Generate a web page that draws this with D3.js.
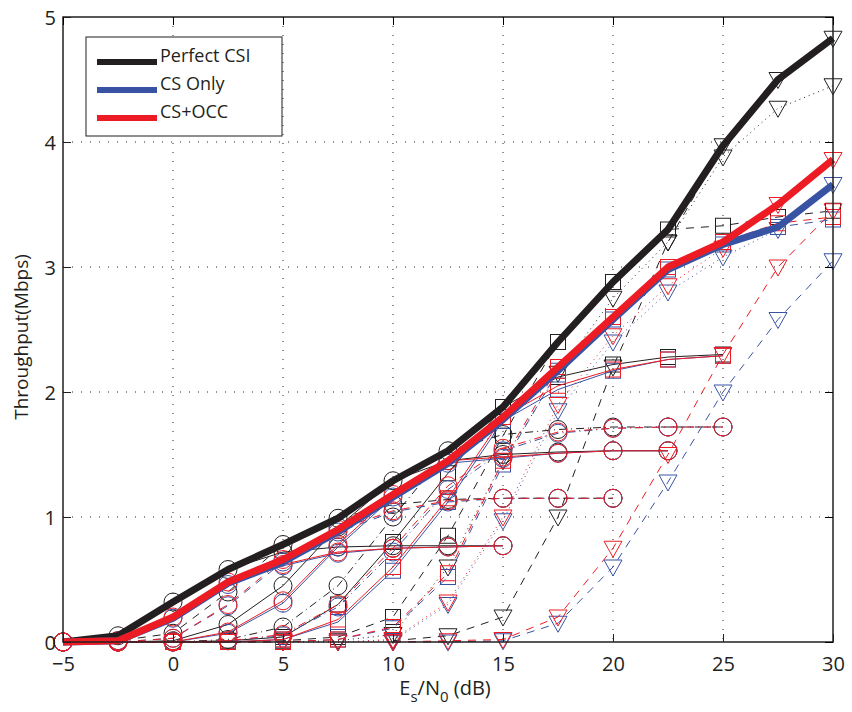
<!DOCTYPE html>
<html>
<head>
<meta charset="utf-8">
<script src="https://cdn.jsdelivr.net/npm/d3@7"></script>
<style>
  body { margin: 0; background: #fff; }
  text { font-family: "Open Sans", "Noto Sans", sans-serif; fill: #231f20; }
</style>
</head>
<body>
<div id="chart"></div>
<script>
// SNR grid (dB) and ticks
const snr = [-5, -2.5, 0, 2.5, 5, 7.5, 10, 12.5, 15, 17.5, 20, 22.5, 25, 27.5, 30];
const xTicks = [-5, 0, 5, 10, 15, 20, 25, 30];
const yTicks = [0, 1, 2, 3, 4, 5];
const schemeNames = ["Perfect CSI", "CS Only", "CS+OCC"];
const schemeColors = ["#231f20", "#3953a4", "#ed1c24"];

// thick envelope curves (best MCS per SNR)
const perfectCSI = [0, 0.05, 0.32, 0.58, 0.78, 0.99, 1.29, 1.53, 1.88, 2.4, 2.88, 3.3, 3.97, 4.5, 4.83];
const csOnly     = [0, 0.01, 0.19, 0.47, 0.64, 0.88, 1.16, 1.43, 1.78, 2.17, 2.58, 2.98, 3.18, 3.32, 3.66];
const csOcc      = [0, 0.01, 0.2, 0.48, 0.66, 0.9, 1.18, 1.45, 1.8, 2.2, 2.6, 3.0, 3.2, 3.5, 3.86];

// thin per-MCS curves: [perfect, cs only, cs+occ], each starting at its own SNR
const mcs1Start = -5; // circle, solid
const mcs1 = [
  [0, 0.05, 0.32, 0.58, 0.72, 0.76, 0.77, 0.77, 0.77],
  [0, 0.01, 0.19, 0.46, 0.61, 0.71, 0.75, 0.76, 0.77],
  [0, 0.01, 0.2, 0.48, 0.62, 0.72, 0.75, 0.76, 0.77]
];
const mcs2Start = -5; // circle, dashed
const mcs2 = [
  [0, 0.01, 0.07, 0.4, 0.78, 0.99, 1.1, 1.14, 1.15, 1.15, 1.15],
  [0, 0, 0.03, 0.29, 0.64, 0.88, 1.04, 1.12, 1.15, 1.15, 1.15],
  [0, 0, 0.03, 0.3, 0.66, 0.9, 1.05, 1.13, 1.15, 1.15, 1.15]
];
const mcs3Start = -5; // circle, solid
const mcs3 = [
  [0, 0, 0.01, 0.14, 0.45, 0.92, 1.29, 1.45, 1.5, 1.52, 1.53, 1.53],
  [0, 0, 0, 0.07, 0.31, 0.76, 1.16, 1.43, 1.47, 1.51, 1.53, 1.53],
  [0, 0, 0, 0.08, 0.33, 0.78, 1.18, 1.45, 1.48, 1.51, 1.53, 1.53]
];
const mcs4Start = -5; // circle, dash-dot
const mcs4 = [
  [0, 0, 0, 0.02, 0.12, 0.45, 1.0, 1.53, 1.66, 1.7, 1.72, 1.72, 1.72],
  [0, 0, 0, 0.01, 0.05, 0.28, 0.72, 1.22, 1.53, 1.67, 1.71, 1.72, 1.72],
  [0, 0, 0, 0.01, 0.06, 0.3, 0.75, 1.25, 1.55, 1.68, 1.71, 1.72, 1.72]
];
const mcs5Start = 0; // square, solid
const mcs5 = [
  [0, 0.01, 0.04, 0.3, 0.8, 1.35, 1.88, 2.12, 2.22, 2.28, 2.3],
  [0, 0, 0.02, 0.16, 0.57, 1.12, 1.77, 2.02, 2.17, 2.26, 2.29],
  [0, 0, 0.02, 0.18, 0.6, 1.15, 1.8, 2.05, 2.18, 2.26, 2.29]
];
const mcs6Start = 0; // square, dashed
const mcs6 = [
  [0, 0, 0.01, 0.04, 0.2, 0.85, 1.65, 2.4, 2.88, 3.3, 3.33, 3.4, 3.45],
  [0, 0, 0, 0.02, 0.11, 0.52, 1.42, 2.17, 2.58, 2.98, 3.18, 3.32, 3.38],
  [0, 0, 0, 0.02, 0.12, 0.55, 1.45, 2.2, 2.6, 3.0, 3.2, 3.35, 3.4]
];
const mcs7Start = 5; // triangle, dotted
const mcs7 = [
  [0, 0.01, 0.06, 0.6, 1.45, 2.15, 2.75, 3.2, 3.88, 4.27, 4.45],
  [0, 0, 0.01, 0.3, 0.97, 1.85, 2.4, 2.8, 3.08, 3.3, 3.66],
  [0, 0, 0.02, 0.32, 1.0, 1.9, 2.45, 2.85, 3.15, 3.5, 3.86]
];
const mcs8Start = 10; // triangle, dashed
const mcs8 = [
  [0.01, 0.05, 0.2, 1.0, 2.2, 3.2, 3.97, 4.5, 4.83],
  [0, 0, 0.01, 0.15, 0.6, 1.28, 2.0, 2.58, 3.05],
  [0, 0.01, 0.02, 0.2, 0.75, 1.5, 2.3, 3.0, 3.45]
];

const config = { div: "#chart", left: 63, top: 17, width: 770, height: 625 };

const dashes = { solid: null, dashed: "8,7", dotted: "1,4", dashdot: "8,4,1,4" };

const curves = [
  { start: mcs1Start, sets: mcs1, marker: "circle", dash: "solid" },
  { start: mcs2Start, sets: mcs2, marker: "circle", dash: "dashed" },
  { start: mcs3Start, sets: mcs3, marker: "circle", dash: "solid" },
  { start: mcs4Start, sets: mcs4, marker: "circle", dash: "dashdot" },
  { start: mcs5Start, sets: mcs5, marker: "square", dash: "solid" },
  { start: mcs6Start, sets: mcs6, marker: "square", dash: "dashed" },
  { start: mcs7Start, sets: mcs7, marker: "triangle", dash: "dotted" },
  { start: mcs8Start, sets: mcs8, marker: "triangle", dash: "dashed" }
];

const svg = d3.select(config.div)
  .append("svg")
  .attr("width", 852)
  .attr("height", 712);

const g = svg.append("g")
  .attr("transform", `translate(${config.left},${config.top})`);

const xScale = d3.scaleLinear().domain([-5, 30]).range([0, config.width]);
const yScale = d3.scaleLinear().domain([0, 5]).range([config.height, 0]);

// grid
g.append("g").selectAll("line")
  .data(xTicks.slice(1, -1))
  .join("line")
    .attr("x1", d => xScale(d)).attr("x2", d => xScale(d))
    .attr("y1", 0).attr("y2", config.height)
    .attr("stroke", "#231f20").attr("stroke-width", 1)
    .attr("stroke-dasharray", "1,8");
g.append("g").selectAll("line")
  .data(yTicks.slice(1, -1))
  .join("line")
    .attr("y1", d => yScale(d)).attr("y2", d => yScale(d))
    .attr("x1", 0).attr("x2", config.width)
    .attr("stroke", "#231f20").attr("stroke-width", 1)
    .attr("stroke-dasharray", "1,8");

// thin MCS curves, drawn per scheme: black, then blue, then red
function drawMarker(sel, type, color) {
  if (type === "circle") {
    sel.append("circle").attr("r", 9);
  } else if (type === "square") {
    sel.append("rect").attr("x", -7.5).attr("y", -7.5).attr("width", 15).attr("height", 15);
  } else {
    sel.append("path").attr("d", "M-9,-7L9,-7L0,9Z");
  }
  sel.selectAll("*").attr("fill", "none").attr("stroke", color).attr("stroke-width", 1);
}

const line = d3.line().x(d => xScale(d.x)).y(d => yScale(d.y));

[0, 1, 2].forEach(s => {
  const layer = g.append("g");
  curves.forEach(c => {
    const pts = c.sets[s].map((v, i) => ({ x: c.start + 2.5 * i, y: v }));
    layer.append("path")
      .datum(pts)
      .attr("fill", "none")
      .attr("stroke", schemeColors[s])
      .attr("stroke-width", 1)
      .attr("stroke-dasharray", dashes[c.dash])
      .attr("d", line);
    layer.append("g").selectAll("g")
      .data(pts)
      .join("g")
        .attr("transform", d => `translate(${xScale(d.x)},${yScale(d.y)})`)
        .each(function() { drawMarker(d3.select(this), c.marker, schemeColors[s]); });
  });
});

// thick envelopes
[perfectCSI, csOnly, csOcc].forEach((vals, s) => {
  g.append("path")
    .datum(vals.map((v, i) => ({ x: snr[i], y: v })))
    .attr("fill", "none")
    .attr("stroke", schemeColors[s])
    .attr("stroke-width", 7)
    .attr("stroke-linejoin", "round")
    .attr("d", line);
});

// box + axes with inward ticks
g.append("rect")
  .attr("width", config.width).attr("height", config.height)
  .attr("fill", "none").attr("stroke", "#231f20").attr("stroke-width", 1.5);

const xAxis = d3.axisBottom(xScale).tickValues(xTicks).tickSizeInner(-8).tickSizeOuter(0)
  .tickFormat(d => d < 0 ? "\u2212" + Math.abs(d) : d);
const yAxis = d3.axisLeft(yScale).tickValues(yTicks).tickSizeInner(-8).tickSizeOuter(0)
  .tickFormat(d3.format("d"));

const gx = g.append("g").attr("transform", `translate(0,${config.height})`).call(xAxis);
gx.select(".domain").remove();
gx.selectAll("text").attr("font-size", 20).attr("dy", "1.05em").attr("y", 8);
gx.selectAll("line").attr("stroke", "#231f20");

const gy = g.append("g").call(yAxis);
gy.select(".domain").remove();
gy.selectAll("text").attr("font-size", 20).attr("x", -7).attr("dy", "0.35em");
gy.selectAll("line").attr("stroke", "#231f20");

// ticks on top and right
g.append("g").attr("transform", `translate(0,0)`)
  .call(d3.axisTop(xScale).tickValues(xTicks).tickSizeInner(-8).tickSizeOuter(0).tickFormat(""))
  .call(a => a.select(".domain").remove());
g.append("g").attr("transform", `translate(${config.width},0)`)
  .call(d3.axisRight(yScale).tickValues(yTicks).tickSizeInner(-8).tickSizeOuter(0).tickFormat(""))
  .call(a => a.select(".domain").remove());

// axis titles
const xl = svg.append("text")
  .attr("x", 445).attr("y", 695)
  .attr("text-anchor", "middle")
  .attr("font-size", 20);
xl.append("tspan").text("E");
xl.append("tspan").attr("dy", 7).attr("font-size", 15).text("s");
xl.append("tspan").attr("dy", -7).text("/N");
xl.append("tspan").attr("dy", 7).attr("font-size", 15).text("0");
xl.append("tspan").attr("dy", -7).text(" (dB)");

svg.append("text")
  .attr("transform", "translate(28,337) rotate(-90)")
  .attr("text-anchor", "middle")
  .attr("font-size", 19)
  .text("Throughput(Mbps)");

// legend
const legend = svg.append("g");
legend.append("rect")
  .attr("x", 86).attr("y", 37).attr("width", 196).attr("height", 99)
  .attr("fill", "#fff").attr("stroke", "#231f20").attr("stroke-width", 1);
const legY = [62, 90, 118];
schemeNames.forEach((name, i) => {
  legend.append("line")
    .attr("x1", 97).attr("x2", 157)
    .attr("y1", legY[i]).attr("y2", legY[i])
    .attr("stroke", schemeColors[i]).attr("stroke-width", 6);
  legend.append("text")
    .attr("x", 160).attr("y", legY[i])
    .attr("font-size", 18)
    .text(name);
});
</script>
</body>
</html>
